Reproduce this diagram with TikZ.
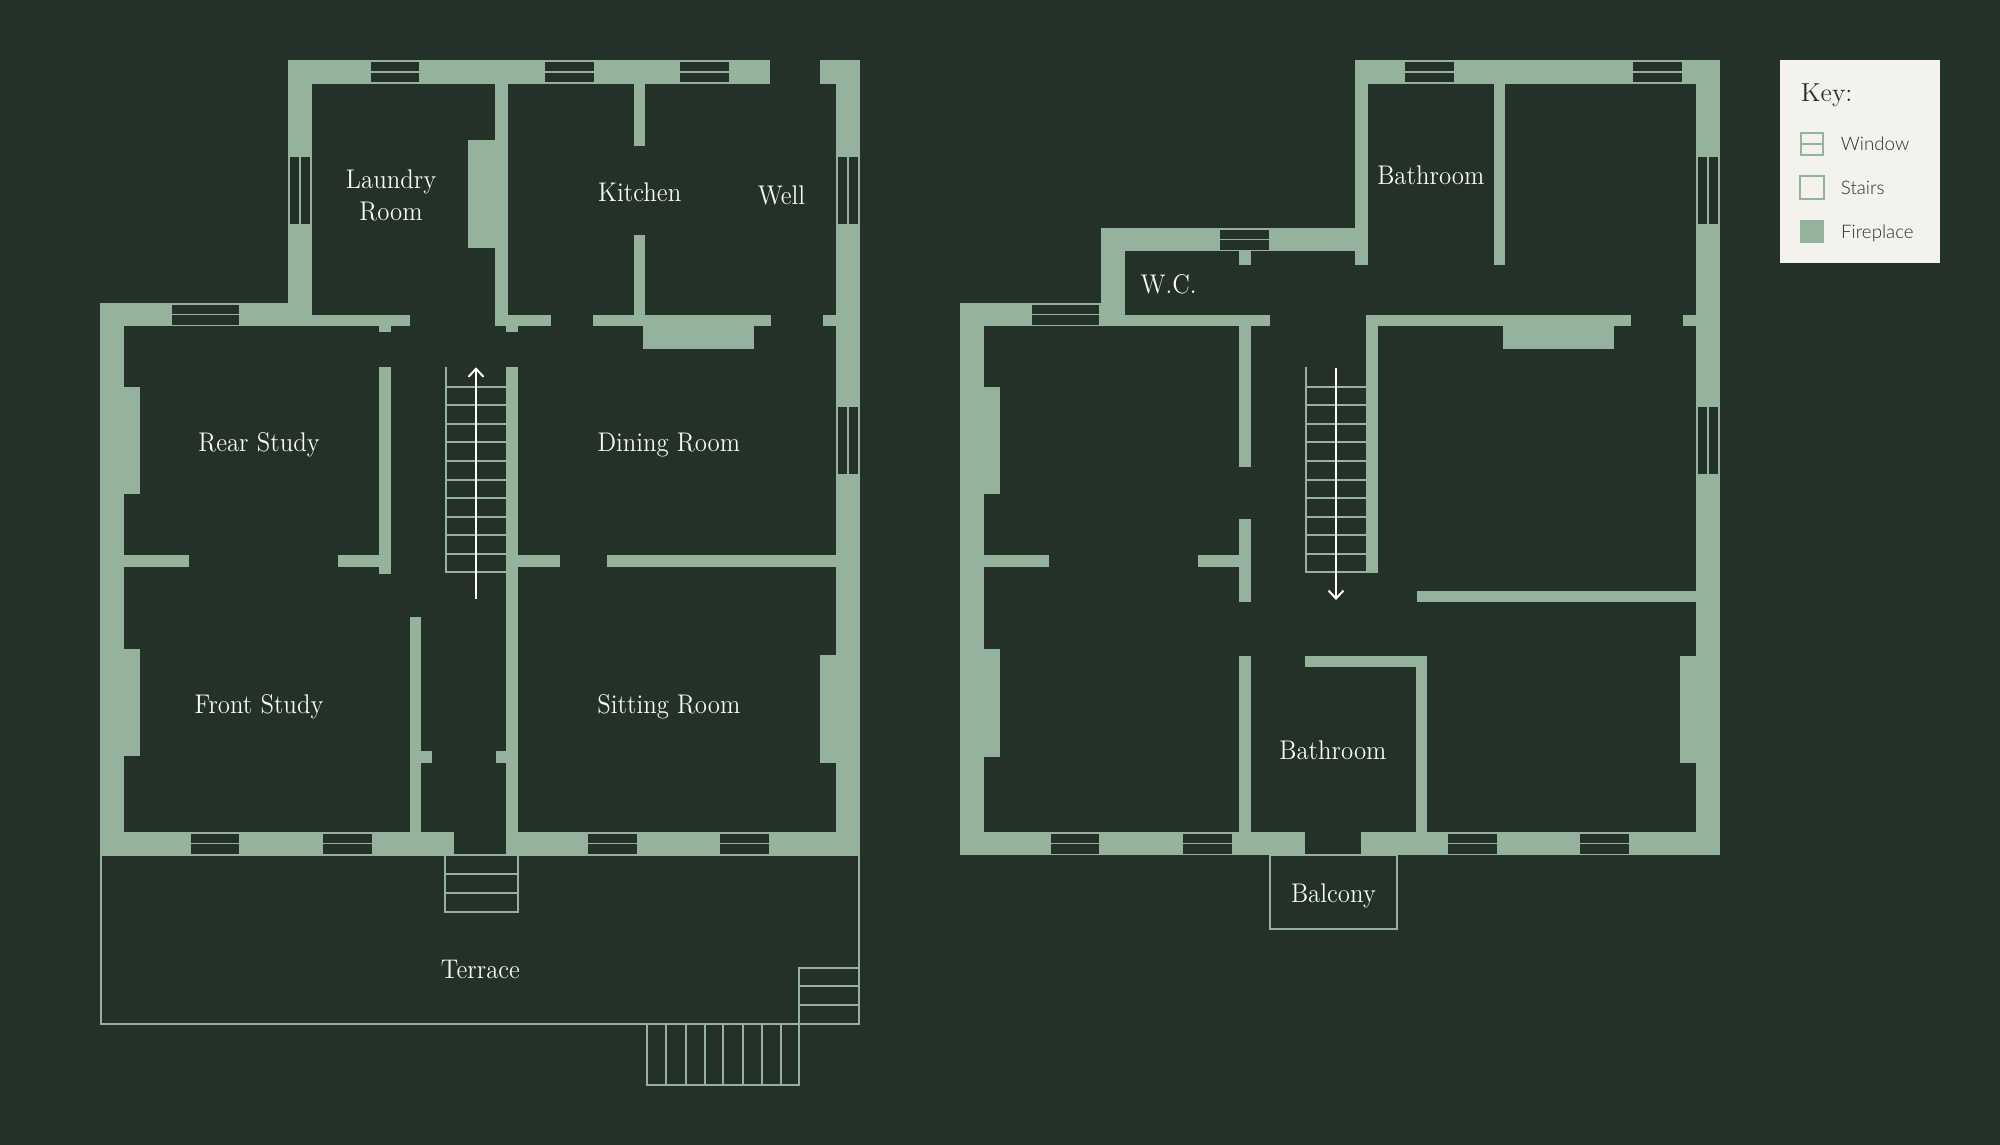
\documentclass[tikz,border=0pt]{standalone}
\usepackage{fontspec}
\usetikzlibrary{arrows.meta}
\newfontfamily\roomfont[Extension=.otf,FakeStretch=0.92]{lmroman12-regular}
\newfontfamily\keyfont[Extension=.otf]{lmroman12-regular}
\newfontfamily\legendfont{Lato Light}
\definecolor{bgdark}{HTML}{233129}
\definecolor{sage}{HTML}{94B29C}
\definecolor{paper}{HTML}{F3F2EC}
\definecolor{labelwhite}{HTML}{FAFAF5}
\tikzset{
  wall/.style={fill=sage,draw=none},
  thinline/.style={draw=sage,line width=2pt},
  pane/.style={fill=bgdark,draw=none},
  room/.style={text=labelwhite,font=\roomfont\fontsize{27}{32}\selectfont,anchor=base,inner sep=0pt,align=center},
  legendtext/.style={text=bgdark,font=\legendfont\fontsize{18.7}{20}\selectfont,anchor=base west,inner sep=0pt},
  stairarrow/.style={draw=white,line width=2pt,-{Straight Barb[length=8pt,width=15pt,line width=2pt]}},
}
\newcommand{\hwin}[3]{\fill[pane] (#1,#3+1.8) rectangle (#2,#3+10.8);\fill[pane] (#1,#3+12.6) rectangle (#2,#3+21.8);}
\newcommand{\vwin}[3]{\fill[pane] (#1+2,#2) rectangle (#1+11,#3);\fill[pane] (#1+13,#2) rectangle (#1+22,#3);}
\newcommand{\rungs}[2]{\draw[thinline] (#1,367) -- (#1,572);
  \foreach \yy in {386.7,405.3,424,442.4,461,479.7,498,516.7,535,553.7,572}{\draw[thinline] (#1-1,\yy) -- (#2,\yy);}}
\begin{document}
\begin{tikzpicture}[x=1pt,y=-1pt]
\useasboundingbox (0,0) rectangle (2000,1144);
\fill[bgdark] (-3,-3) rectangle (2003,1147);

% ---------- ground floor: outer walls
\fill[wall] (287.7,60.4) rectangle (770.3,84);
\fill[wall] (819.8,60.4) rectangle (860,84);
\fill[wall] (287.7,60.4) rectangle (311.6,326.4);
\fill[wall] (100,302.5) rectangle (311.6,326.4);
\fill[wall] (300,314.6) rectangle (409.6,326.4);
\fill[wall] (379,326) rectangle (391.2,332);
\fill[wall] (100,302.5) rectangle (124,855);
\fill[wall] (835.6,60.4) rectangle (860,855);
\fill[wall] (100,831.5) rectangle (453.5,855);
\fill[wall] (506,831.5) rectangle (860,855);
% inner walls
\fill[wall] (495.3,84) rectangle (507.6,326.4);
\fill[wall] (468.3,140) rectangle (496,247.5);
\fill[wall] (495.3,314.6) rectangle (550.9,326.4);
\fill[wall] (506,326) rectangle (518,332);
\fill[wall] (592.8,314.6) rectangle (771.3,326.4);
\fill[wall] (643.3,326) rectangle (753.5,348.6);
\fill[wall] (634,84) rectangle (645.3,145.7);
\fill[wall] (634,234.6) rectangle (645.3,315);
\fill[wall] (822.9,314.6) rectangle (836,326.4);
\fill[wall] (379,367.2) rectangle (391.2,574);
\fill[wall] (338.2,555) rectangle (379.5,567);
\fill[wall] (124,555) rectangle (188.7,567);
\fill[wall] (506,367.2) rectangle (518,855);
\fill[wall] (518,555) rectangle (559.6,567);
\fill[wall] (606.5,555) rectangle (836,567);
\fill[wall] (409.6,617.1) rectangle (421.3,832);
\fill[wall] (421,751.4) rectangle (431.5,763.2);
\fill[wall] (496.3,751.4) rectangle (506.5,763.2);
% fireplaces
\fill[wall] (123.5,386.8) rectangle (140.2,494.3);
\fill[wall] (123.5,648.9) rectangle (140.2,756.4);
\fill[wall] (820.3,655.4) rectangle (836,763.2);
% windows
\hwin{370.8}{419.3}{60.4}
\hwin{545.3}{594.3}{60.4}
\hwin{680}{728.5}{60.4}
\hwin{171.8}{239.2}{302.7}
\hwin{190.7}{239.2}{831.8}
\hwin{322.9}{371.8}{831.8}
\hwin{588.2}{637.1}{831.8}
\hwin{720.3}{769.3}{831.8}
\vwin{287.7}{157.1}{223.6}
\vwin{836}{157.1}{223.6}
\vwin{836}{407}{473.6}
% stairs
\rungs{446}{506.5}
\draw[stairarrow] (476,599.3) -- (476,367.3);
% terrace
\draw[thinline] (100.9,855.2) rectangle (859,1024.3);
\draw[thinline] (445.3,855.2) rectangle (518.3,911.8);
\draw[thinline] (445.3,874.3) -- (518.3,874.3) (445.3,892.9) -- (518.3,892.9);
\draw[thinline] (798.9,967.9) rectangle (859,1024.3);
\draw[thinline] (798.9,986.4) -- (859,986.4) (798.9,1005.4) -- (859,1005.4);
\draw[thinline] (646.8,1024.3) rectangle (799.4,1084.6);
\foreach \xx in {666.2,685.6,704.5,723.4,742.8,761.6,780.5}{\draw[thinline] (\xx,1024.3) -- (\xx,1084.6);}

% ---------- upper floor
\fill[wall] (1355.3,60.4) rectangle (1720,84);
\fill[wall] (1355.3,60.4) rectangle (1367.6,264.6);
\fill[wall] (1494,84) rectangle (1505.3,264.6);
\fill[wall] (1100.7,227.5) rectangle (1367.6,251.4);
\fill[wall] (1100.7,227.5) rectangle (1124.7,326.4);
\fill[wall] (1239,251) rectangle (1251.2,264.6);
\fill[wall] (960,302.5) rectangle (1124.7,326.4);
\fill[wall] (1120,314.6) rectangle (1269.6,326.4);
\fill[wall] (960,302.5) rectangle (984,855);
\fill[wall] (1695.6,60.4) rectangle (1720,855);
\fill[wall] (960,831.6) rectangle (1305.3,855);
\fill[wall] (1360.9,831.6) rectangle (1720,855);
\fill[wall] (1239,326) rectangle (1251.2,466.8);
\fill[wall] (1239,518.9) rectangle (1251.2,602.3);
\fill[wall] (984,555) rectangle (1048.7,567);
\fill[wall] (1198.2,555) rectangle (1239.5,567);
\fill[wall] (1366,314.6) rectangle (1631.3,326.4);
\fill[wall] (1366,314.6) rectangle (1377.8,573);
\fill[wall] (1682.9,314.6) rectangle (1696,326.4);
\fill[wall] (1417,590.7) rectangle (1696,602.3);
\fill[wall] (1239,655.7) rectangle (1251.2,832);
\fill[wall] (1305.3,655.7) rectangle (1427.2,667.3);
\fill[wall] (1415.5,655.7) rectangle (1427.2,832);
% fireplaces
\fill[wall] (983.5,386.8) rectangle (1000.2,494.3);
\fill[wall] (983.5,649) rectangle (1000.2,756.7);
\fill[wall] (1503.3,326) rectangle (1613.5,348.6);
\fill[wall] (1680.3,655.7) rectangle (1696,763);
% windows
\hwin{1405.3}{1454.3}{60.4}
\hwin{1632.9}{1681.8}{60.4}
\hwin{1219.6}{1268.6}{227.7}
\hwin{1031.8}{1099.2}{302.7}
\hwin{1050.7}{1099.2}{831.8}
\hwin{1182.9}{1231.8}{831.8}
\hwin{1448.2}{1497.1}{831.8}
\hwin{1580.3}{1629.3}{831.8}
\vwin{1696}{157.1}{223.6}
\vwin{1696}{407}{473.6}
% stairs
\rungs{1306}{1366.5}
\draw[stairarrow] (1336,367.5) -- (1336,600);
% balcony
\draw[thinline] (1269.6,855.2) rectangle (1397.1,929.3);
\draw[thinline] (1305.3,855.2) -- (1360.9,855.2);

% ---------- labels
\node[room] (laundry) at (391,220) {Laundry\\Room};
\node[room] (kitchen) at (639.7,201) {Kitchen};
\node[room] (well) at (781.5,204) {Well};
\node[room] (rear) at (259,451) {Rear Study};
\node[room] (dining) at (668.8,451) {Dining Room};
\node[room] (front) at (259,713.6) {Front Study};
\node[room] (sitting) at (668.8,713.6) {Sitting Room};
\node[room] (terrace) at (480.5,978) {Terrace};
\node[room] (bathup) at (1430.8,184) {Bathroom};
\node[room] (wc) at (1168.6,293) {W.C.};
\node[room] (bathlow) at (1332.9,759.3) {Bathroom};
\node[room] (balcony) at (1333.4,902) {Balcony};

% ---------- key
\fill[paper] (1779.7,60) rectangle (1940,263.3);
\node[text=bgdark,font=\keyfont\fontsize{26}{27}\selectfont,anchor=base west,inner sep=0pt] (keytitle) at (1800.7,101.7) {Key:};
\draw[thinline] (1801,132.6) rectangle (1822.5,154.5);
\draw[thinline] (1801,143.5) -- (1822.5,143.5);
\draw[thinline] (1800.3,176) rectangle (1824.4,199.4);
\fill[sage] (1800.3,219.7) rectangle (1824.3,243.3);
\node[legendtext] (kwin) at (1840.7,150.7) {Window};
\node[legendtext] (kst) at (1840.7,194.7) {Stairs};
\node[legendtext] (kfp) at (1841,238.7) {Fireplace};
\end{tikzpicture}
\end{document}
